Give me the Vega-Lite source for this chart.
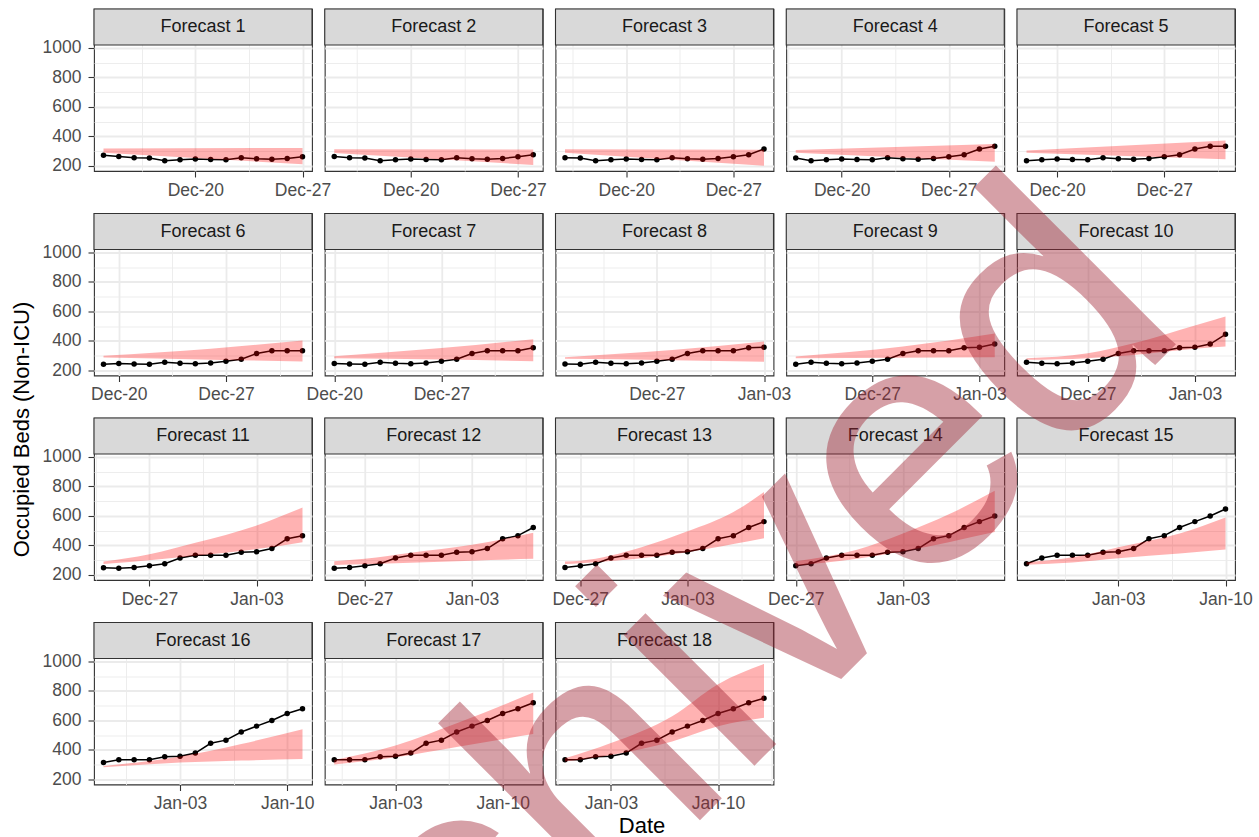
{
  "$schema": "https://vega.github.io/schema/vega-lite/v6.json",
  "padding": {"left": 11, "top": 7, "right": 10, "bottom": 5},
  "background": "white",
  "title": {"text": "Occupied Beds (Non-ICU)", "orient": "left", "anchor": "middle", "fontSize": 22, "fontWeight": "normal", "color": "#000000", "offset": -4, "font": "Liberation Sans", "dx": 245},
  "data": {
    "format": {"parse": {"d": "date"}},
    "values": [
      {"p":"Forecast 1","d":"2020/12/14","v":272},{"p":"Forecast 1","d":"2020/12/15","v":264},{"p":"Forecast 1","d":"2020/12/16","v":255},{"p":"Forecast 1","d":"2020/12/17","v":254},{"p":"Forecast 1","d":"2020/12/18","v":235},{"p":"Forecast 1","d":"2020/12/19","v":242},{"p":"Forecast 1","d":"2020/12/20","v":247},{"p":"Forecast 1","d":"2020/12/21","v":244},{"p":"Forecast 1","d":"2020/12/22","v":242},{"p":"Forecast 1","d":"2020/12/23","v":255},{"p":"Forecast 1","d":"2020/12/24","v":249},{"p":"Forecast 1","d":"2020/12/25","v":246},{"p":"Forecast 1","d":"2020/12/26","v":251},{"p":"Forecast 1","d":"2020/12/27","v":262},
      {"p":"Forecast 2","d":"2020/12/15","v":264},{"p":"Forecast 2","d":"2020/12/16","v":255},{"p":"Forecast 2","d":"2020/12/17","v":254},{"p":"Forecast 2","d":"2020/12/18","v":235},{"p":"Forecast 2","d":"2020/12/19","v":242},{"p":"Forecast 2","d":"2020/12/20","v":247},{"p":"Forecast 2","d":"2020/12/21","v":244},{"p":"Forecast 2","d":"2020/12/22","v":242},{"p":"Forecast 2","d":"2020/12/23","v":255},{"p":"Forecast 2","d":"2020/12/24","v":249},{"p":"Forecast 2","d":"2020/12/25","v":246},{"p":"Forecast 2","d":"2020/12/26","v":251},{"p":"Forecast 2","d":"2020/12/27","v":262},{"p":"Forecast 2","d":"2020/12/28","v":276},
      {"p":"Forecast 3","d":"2020/12/16","v":255},{"p":"Forecast 3","d":"2020/12/17","v":254},{"p":"Forecast 3","d":"2020/12/18","v":235},{"p":"Forecast 3","d":"2020/12/19","v":242},{"p":"Forecast 3","d":"2020/12/20","v":247},{"p":"Forecast 3","d":"2020/12/21","v":244},{"p":"Forecast 3","d":"2020/12/22","v":242},{"p":"Forecast 3","d":"2020/12/23","v":255},{"p":"Forecast 3","d":"2020/12/24","v":249},{"p":"Forecast 3","d":"2020/12/25","v":246},{"p":"Forecast 3","d":"2020/12/26","v":251},{"p":"Forecast 3","d":"2020/12/27","v":262},{"p":"Forecast 3","d":"2020/12/28","v":276},{"p":"Forecast 3","d":"2020/12/29","v":315},
      {"p":"Forecast 4","d":"2020/12/17","v":254},{"p":"Forecast 4","d":"2020/12/18","v":235},{"p":"Forecast 4","d":"2020/12/19","v":242},{"p":"Forecast 4","d":"2020/12/20","v":247},{"p":"Forecast 4","d":"2020/12/21","v":244},{"p":"Forecast 4","d":"2020/12/22","v":242},{"p":"Forecast 4","d":"2020/12/23","v":255},{"p":"Forecast 4","d":"2020/12/24","v":249},{"p":"Forecast 4","d":"2020/12/25","v":246},{"p":"Forecast 4","d":"2020/12/26","v":251},{"p":"Forecast 4","d":"2020/12/27","v":262},{"p":"Forecast 4","d":"2020/12/28","v":276},{"p":"Forecast 4","d":"2020/12/29","v":315},{"p":"Forecast 4","d":"2020/12/30","v":334},
      {"p":"Forecast 5","d":"2020/12/18","v":235},{"p":"Forecast 5","d":"2020/12/19","v":242},{"p":"Forecast 5","d":"2020/12/20","v":247},{"p":"Forecast 5","d":"2020/12/21","v":244},{"p":"Forecast 5","d":"2020/12/22","v":242},{"p":"Forecast 5","d":"2020/12/23","v":255},{"p":"Forecast 5","d":"2020/12/24","v":249},{"p":"Forecast 5","d":"2020/12/25","v":246},{"p":"Forecast 5","d":"2020/12/26","v":251},{"p":"Forecast 5","d":"2020/12/27","v":262},{"p":"Forecast 5","d":"2020/12/28","v":276},{"p":"Forecast 5","d":"2020/12/29","v":315},{"p":"Forecast 5","d":"2020/12/30","v":334},{"p":"Forecast 5","d":"2020/12/31","v":334},
      {"p":"Forecast 6","d":"2020/12/19","v":242},{"p":"Forecast 6","d":"2020/12/20","v":247},{"p":"Forecast 6","d":"2020/12/21","v":244},{"p":"Forecast 6","d":"2020/12/22","v":242},{"p":"Forecast 6","d":"2020/12/23","v":255},{"p":"Forecast 6","d":"2020/12/24","v":249},{"p":"Forecast 6","d":"2020/12/25","v":246},{"p":"Forecast 6","d":"2020/12/26","v":251},{"p":"Forecast 6","d":"2020/12/27","v":262},{"p":"Forecast 6","d":"2020/12/28","v":276},{"p":"Forecast 6","d":"2020/12/29","v":315},{"p":"Forecast 6","d":"2020/12/30","v":334},{"p":"Forecast 6","d":"2020/12/31","v":334},{"p":"Forecast 6","d":"2021/01/01","v":334},
      {"p":"Forecast 7","d":"2020/12/20","v":247},{"p":"Forecast 7","d":"2020/12/21","v":244},{"p":"Forecast 7","d":"2020/12/22","v":242},{"p":"Forecast 7","d":"2020/12/23","v":255},{"p":"Forecast 7","d":"2020/12/24","v":249},{"p":"Forecast 7","d":"2020/12/25","v":246},{"p":"Forecast 7","d":"2020/12/26","v":251},{"p":"Forecast 7","d":"2020/12/27","v":262},{"p":"Forecast 7","d":"2020/12/28","v":276},{"p":"Forecast 7","d":"2020/12/29","v":315},{"p":"Forecast 7","d":"2020/12/30","v":334},{"p":"Forecast 7","d":"2020/12/31","v":334},{"p":"Forecast 7","d":"2021/01/01","v":334},{"p":"Forecast 7","d":"2021/01/02","v":354},
      {"p":"Forecast 8","d":"2020/12/21","v":244},{"p":"Forecast 8","d":"2020/12/22","v":242},{"p":"Forecast 8","d":"2020/12/23","v":255},{"p":"Forecast 8","d":"2020/12/24","v":249},{"p":"Forecast 8","d":"2020/12/25","v":246},{"p":"Forecast 8","d":"2020/12/26","v":251},{"p":"Forecast 8","d":"2020/12/27","v":262},{"p":"Forecast 8","d":"2020/12/28","v":276},{"p":"Forecast 8","d":"2020/12/29","v":315},{"p":"Forecast 8","d":"2020/12/30","v":334},{"p":"Forecast 8","d":"2020/12/31","v":334},{"p":"Forecast 8","d":"2021/01/01","v":334},{"p":"Forecast 8","d":"2021/01/02","v":354},{"p":"Forecast 8","d":"2021/01/03","v":357},
      {"p":"Forecast 9","d":"2020/12/22","v":242},{"p":"Forecast 9","d":"2020/12/23","v":255},{"p":"Forecast 9","d":"2020/12/24","v":249},{"p":"Forecast 9","d":"2020/12/25","v":246},{"p":"Forecast 9","d":"2020/12/26","v":251},{"p":"Forecast 9","d":"2020/12/27","v":262},{"p":"Forecast 9","d":"2020/12/28","v":276},{"p":"Forecast 9","d":"2020/12/29","v":315},{"p":"Forecast 9","d":"2020/12/30","v":334},{"p":"Forecast 9","d":"2020/12/31","v":334},{"p":"Forecast 9","d":"2021/01/01","v":334},{"p":"Forecast 9","d":"2021/01/02","v":354},{"p":"Forecast 9","d":"2021/01/03","v":357},{"p":"Forecast 9","d":"2021/01/04","v":379},
      {"p":"Forecast 10","d":"2020/12/23","v":255},{"p":"Forecast 10","d":"2020/12/24","v":249},{"p":"Forecast 10","d":"2020/12/25","v":246},{"p":"Forecast 10","d":"2020/12/26","v":251},{"p":"Forecast 10","d":"2020/12/27","v":262},{"p":"Forecast 10","d":"2020/12/28","v":276},{"p":"Forecast 10","d":"2020/12/29","v":315},{"p":"Forecast 10","d":"2020/12/30","v":334},{"p":"Forecast 10","d":"2020/12/31","v":334},{"p":"Forecast 10","d":"2021/01/01","v":334},{"p":"Forecast 10","d":"2021/01/02","v":354},{"p":"Forecast 10","d":"2021/01/03","v":357},{"p":"Forecast 10","d":"2021/01/04","v":379},{"p":"Forecast 10","d":"2021/01/05","v":445},
      {"p":"Forecast 11","d":"2020/12/24","v":249},{"p":"Forecast 11","d":"2020/12/25","v":246},{"p":"Forecast 11","d":"2020/12/26","v":251},{"p":"Forecast 11","d":"2020/12/27","v":262},{"p":"Forecast 11","d":"2020/12/28","v":276},{"p":"Forecast 11","d":"2020/12/29","v":315},{"p":"Forecast 11","d":"2020/12/30","v":334},{"p":"Forecast 11","d":"2020/12/31","v":334},{"p":"Forecast 11","d":"2021/01/01","v":334},{"p":"Forecast 11","d":"2021/01/02","v":354},{"p":"Forecast 11","d":"2021/01/03","v":357},{"p":"Forecast 11","d":"2021/01/04","v":379},{"p":"Forecast 11","d":"2021/01/05","v":445},{"p":"Forecast 11","d":"2021/01/06","v":466},
      {"p":"Forecast 12","d":"2020/12/25","v":246},{"p":"Forecast 12","d":"2020/12/26","v":251},{"p":"Forecast 12","d":"2020/12/27","v":262},{"p":"Forecast 12","d":"2020/12/28","v":276},{"p":"Forecast 12","d":"2020/12/29","v":315},{"p":"Forecast 12","d":"2020/12/30","v":334},{"p":"Forecast 12","d":"2020/12/31","v":334},{"p":"Forecast 12","d":"2021/01/01","v":334},{"p":"Forecast 12","d":"2021/01/02","v":354},{"p":"Forecast 12","d":"2021/01/03","v":357},{"p":"Forecast 12","d":"2021/01/04","v":379},{"p":"Forecast 12","d":"2021/01/05","v":445},{"p":"Forecast 12","d":"2021/01/06","v":466},{"p":"Forecast 12","d":"2021/01/07","v":521},
      {"p":"Forecast 13","d":"2020/12/26","v":251},{"p":"Forecast 13","d":"2020/12/27","v":262},{"p":"Forecast 13","d":"2020/12/28","v":276},{"p":"Forecast 13","d":"2020/12/29","v":315},{"p":"Forecast 13","d":"2020/12/30","v":334},{"p":"Forecast 13","d":"2020/12/31","v":334},{"p":"Forecast 13","d":"2021/01/01","v":334},{"p":"Forecast 13","d":"2021/01/02","v":354},{"p":"Forecast 13","d":"2021/01/03","v":357},{"p":"Forecast 13","d":"2021/01/04","v":379},{"p":"Forecast 13","d":"2021/01/05","v":445},{"p":"Forecast 13","d":"2021/01/06","v":466},{"p":"Forecast 13","d":"2021/01/07","v":521},{"p":"Forecast 13","d":"2021/01/08","v":561},
      {"p":"Forecast 14","d":"2020/12/27","v":262},{"p":"Forecast 14","d":"2020/12/28","v":276},{"p":"Forecast 14","d":"2020/12/29","v":315},{"p":"Forecast 14","d":"2020/12/30","v":334},{"p":"Forecast 14","d":"2020/12/31","v":334},{"p":"Forecast 14","d":"2021/01/01","v":334},{"p":"Forecast 14","d":"2021/01/02","v":354},{"p":"Forecast 14","d":"2021/01/03","v":357},{"p":"Forecast 14","d":"2021/01/04","v":379},{"p":"Forecast 14","d":"2021/01/05","v":445},{"p":"Forecast 14","d":"2021/01/06","v":466},{"p":"Forecast 14","d":"2021/01/07","v":521},{"p":"Forecast 14","d":"2021/01/08","v":561},{"p":"Forecast 14","d":"2021/01/09","v":599},
      {"p":"Forecast 15","d":"2020/12/28","v":276},{"p":"Forecast 15","d":"2020/12/29","v":315},{"p":"Forecast 15","d":"2020/12/30","v":334},{"p":"Forecast 15","d":"2020/12/31","v":334},{"p":"Forecast 15","d":"2021/01/01","v":334},{"p":"Forecast 15","d":"2021/01/02","v":354},{"p":"Forecast 15","d":"2021/01/03","v":357},{"p":"Forecast 15","d":"2021/01/04","v":379},{"p":"Forecast 15","d":"2021/01/05","v":445},{"p":"Forecast 15","d":"2021/01/06","v":466},{"p":"Forecast 15","d":"2021/01/07","v":521},{"p":"Forecast 15","d":"2021/01/08","v":561},{"p":"Forecast 15","d":"2021/01/09","v":599},{"p":"Forecast 15","d":"2021/01/10","v":646},
      {"p":"Forecast 16","d":"2020/12/29","v":315},{"p":"Forecast 16","d":"2020/12/30","v":334},{"p":"Forecast 16","d":"2020/12/31","v":334},{"p":"Forecast 16","d":"2021/01/01","v":334},{"p":"Forecast 16","d":"2021/01/02","v":354},{"p":"Forecast 16","d":"2021/01/03","v":357},{"p":"Forecast 16","d":"2021/01/04","v":379},{"p":"Forecast 16","d":"2021/01/05","v":445},{"p":"Forecast 16","d":"2021/01/06","v":466},{"p":"Forecast 16","d":"2021/01/07","v":521},{"p":"Forecast 16","d":"2021/01/08","v":561},{"p":"Forecast 16","d":"2021/01/09","v":599},{"p":"Forecast 16","d":"2021/01/10","v":646},{"p":"Forecast 16","d":"2021/01/11","v":678},
      {"p":"Forecast 17","d":"2020/12/30","v":334},{"p":"Forecast 17","d":"2020/12/31","v":334},{"p":"Forecast 17","d":"2021/01/01","v":334},{"p":"Forecast 17","d":"2021/01/02","v":354},{"p":"Forecast 17","d":"2021/01/03","v":357},{"p":"Forecast 17","d":"2021/01/04","v":379},{"p":"Forecast 17","d":"2021/01/05","v":445},{"p":"Forecast 17","d":"2021/01/06","v":466},{"p":"Forecast 17","d":"2021/01/07","v":521},{"p":"Forecast 17","d":"2021/01/08","v":561},{"p":"Forecast 17","d":"2021/01/09","v":599},{"p":"Forecast 17","d":"2021/01/10","v":646},{"p":"Forecast 17","d":"2021/01/11","v":678},{"p":"Forecast 17","d":"2021/01/12","v":719},
      {"p":"Forecast 18","d":"2020/12/31","v":334},{"p":"Forecast 18","d":"2021/01/01","v":334},{"p":"Forecast 18","d":"2021/01/02","v":354},{"p":"Forecast 18","d":"2021/01/03","v":357},{"p":"Forecast 18","d":"2021/01/04","v":379},{"p":"Forecast 18","d":"2021/01/05","v":445},{"p":"Forecast 18","d":"2021/01/06","v":466},{"p":"Forecast 18","d":"2021/01/07","v":521},{"p":"Forecast 18","d":"2021/01/08","v":561},{"p":"Forecast 18","d":"2021/01/09","v":599},{"p":"Forecast 18","d":"2021/01/10","v":646},{"p":"Forecast 18","d":"2021/01/11","v":678},{"p":"Forecast 18","d":"2021/01/12","v":719},{"p":"Forecast 18","d":"2021/01/13","v":749},

      {"p":"Forecast 1","d":"2020/12/14","lo":290,"hi":319},{"p":"Forecast 1","d":"2020/12/27","lo":211,"hi":322},
      {"p":"Forecast 2","d":"2020/12/15","lo":287,"hi":313},{"p":"Forecast 2","d":"2020/12/28","lo":207,"hi":312},
      {"p":"Forecast 3","d":"2020/12/16","lo":290,"hi":313},{"p":"Forecast 3","d":"2020/12/29","lo":202,"hi":310},
      {"p":"Forecast 4","d":"2020/12/17","lo":290,"hi":308},{"p":"Forecast 4","d":"2020/12/30","lo":229,"hi":349},
      {"p":"Forecast 5","d":"2020/12/18","lo":290,"hi":304},{"p":"Forecast 5","d":"2020/12/31","lo":245,"hi":372},
      {"p":"Forecast 6","d":"2020/12/19","lo":288,"hi":299},{"p":"Forecast 6","d":"2020/12/26","lo":273,"hi":347},{"p":"Forecast 6","d":"2021/01/01","lo":261,"hi":403},
      {"p":"Forecast 7","d":"2020/12/20","lo":283,"hi":297},{"p":"Forecast 7","d":"2020/12/27","lo":274,"hi":352},{"p":"Forecast 7","d":"2021/01/02","lo":263,"hi":412},
      {"p":"Forecast 8","d":"2020/12/21","lo":279,"hi":290},{"p":"Forecast 8","d":"2020/12/28","lo":270,"hi":338},{"p":"Forecast 8","d":"2021/01/03","lo":259,"hi":396},
      {"p":"Forecast 9","d":"2020/12/22","lo":283,"hi":295},{"p":"Forecast 9","d":"2020/12/29","lo":286,"hi":362},{"p":"Forecast 9","d":"2021/01/04","lo":290,"hi":450},
      {"p":"Forecast 10","d":"2020/12/23","lo":272,"hi":283},{"p":"Forecast 10","d":"2020/12/27","lo":283,"hi":317},{"p":"Forecast 10","d":"2020/12/30","lo":305,"hi":385},{"p":"Forecast 10","d":"2021/01/03","lo":347,"hi":505},{"p":"Forecast 10","d":"2021/01/05","lo":362,"hi":565},
      {"p":"Forecast 11","d":"2020/12/24","lo":275,"hi":291},{"p":"Forecast 11","d":"2020/12/27","lo":300,"hi":340},{"p":"Forecast 11","d":"2020/12/30","lo":330,"hi":418},{"p":"Forecast 11","d":"2021/01/03","lo":375,"hi":535},{"p":"Forecast 11","d":"2021/01/06","lo":422,"hi":656},
      {"p":"Forecast 12","d":"2020/12/25","lo":268,"hi":293},{"p":"Forecast 12","d":"2020/12/27","lo":272,"hi":309},{"p":"Forecast 12","d":"2020/12/30","lo":282,"hi":350},{"p":"Forecast 12","d":"2021/01/03","lo":297,"hi":404},{"p":"Forecast 12","d":"2021/01/07","lo":309,"hi":486},
      {"p":"Forecast 13","d":"2020/12/26","lo":275,"hi":291},{"p":"Forecast 13","d":"2020/12/27","lo":280,"hi":297},{"p":"Forecast 13","d":"2020/12/31","lo":313,"hi":388},{"p":"Forecast 13","d":"2021/01/03","lo":354,"hi":495},{"p":"Forecast 13","d":"2021/01/06","lo":410,"hi":626},{"p":"Forecast 13","d":"2021/01/08","lo":449,"hi":762},
      {"p":"Forecast 14","d":"2020/12/27","lo":263,"hi":293},{"p":"Forecast 14","d":"2020/12/31","lo":309,"hi":370},{"p":"Forecast 14","d":"2021/01/03","lo":361,"hi":480},{"p":"Forecast 14","d":"2021/01/06","lo":422,"hi":610},{"p":"Forecast 14","d":"2021/01/09","lo":490,"hi":769},
      {"p":"Forecast 15","d":"2020/12/28","lo":270,"hi":286},{"p":"Forecast 15","d":"2020/12/31","lo":285,"hi":320},{"p":"Forecast 15","d":"2021/01/03","lo":313,"hi":388},{"p":"Forecast 15","d":"2021/01/07","lo":345,"hi":480},{"p":"Forecast 15","d":"2021/01/10","lo":372,"hi":588},
      {"p":"Forecast 16","d":"2020/12/29","lo":282,"hi":291},{"p":"Forecast 16","d":"2021/01/03","lo":314,"hi":355},{"p":"Forecast 16","d":"2021/01/07","lo":328,"hi":440},{"p":"Forecast 16","d":"2021/01/11","lo":339,"hi":539},
      {"p":"Forecast 17","d":"2020/12/30","lo":302,"hi":332},{"p":"Forecast 17","d":"2021/01/03","lo":350,"hi":430},{"p":"Forecast 17","d":"2021/01/07","lo":420,"hi":580},{"p":"Forecast 17","d":"2021/01/12","lo":507,"hi":788},
      {"p":"Forecast 18","d":"2020/12/31","lo":321,"hi":343},{"p":"Forecast 18","d":"2021/01/03","lo":366,"hi":446},{"p":"Forecast 18","d":"2021/01/07","lo":457,"hi":628},{"p":"Forecast 18","d":"2021/01/10","lo":560,"hi":845},{"p":"Forecast 18","d":"2021/01/13","lo":617,"hi":981}
    ]
  },
  "facet": {
    "field": "p",
    "type": "nominal",
    "sort": ["Forecast 1","Forecast 2","Forecast 3","Forecast 4","Forecast 5","Forecast 6","Forecast 7","Forecast 8","Forecast 9","Forecast 10","Forecast 11","Forecast 12","Forecast 13","Forecast 14","Forecast 15","Forecast 16","Forecast 17","Forecast 18"],
    "title": "Date",
    "header": {"labels": false, "labelExpr": "''", "labelFontSize": 0.01, "labelPadding": 0, "title": "Date", "titleOrient": "bottom", "titleFontSize": 22, "titleFont": "Liberation Sans", "titleFontWeight": "normal", "titleColor": "#000000", "titlePadding": 31}
  },
  "columns": 5,
  "spacing": {"row": 42.5, "column": 12.75},
  "bounds": "flush",
  "resolve": {"scale": {"x": "independent"}, "axis": {"x": "independent"}},
  "spec": {
    "width": 218,
    "height": 162,
    "layer": [
      {
        "transform": [{"filter": "datum.v != null"}, {"aggregate": [{"op": "count", "as": "n"}], "groupby": ["p"]}],
        "mark": {"type": "rect", "fill": "#D9D9D9", "stroke": "#333333", "strokeWidth": 1.1},
        "encoding": {"x": {"value": 0}, "x2": {"value": "width"}, "y": {"datum": 1018}, "y2": {"datum": 1262}}
      },
      {
        "transform": [{"filter": "datum.v != null"}],
        "mark": {"type": "line", "color": "#000000", "strokeWidth": 1.5},
        "encoding": {
          "x": {
            "field": "d", "type": "temporal",
            "scale": {"padding": 9.5, "nice": false},
            "axis": {
              "title": null,
              "values": [
                {"year": 2020, "month": 12, "date": 13},
                {"year": 2020, "month": 12, "date": 16, "hours": 12},
                {"year": 2020, "month": 12, "date": 20},
                {"year": 2020, "month": 12, "date": 23, "hours": 12},
                {"year": 2020, "month": 12, "date": 27},
                {"year": 2020, "month": 12, "date": 30, "hours": 12},
                {"year": 2021, "month": 1, "date": 3},
                {"year": 2021, "month": 1, "date": 6, "hours": 12},
                {"year": 2021, "month": 1, "date": 10},
                {"year": 2021, "month": 1, "date": 13, "hours": 12},
                {"year": 2021, "month": 1, "date": 17}
              ],
              "tickCount": 30,
              "labelExpr": "hours(datum.value) == 12 ? '' : timeFormat(datum.value, '%b-%d')",
              "grid": true,
              "gridColor": "#EBEBEB",
              "gridWidth": {"condition": {"test": "hours(datum.value) == 12", "value": 0.9}, "value": 1.8},
              "tickOpacity": {"condition": {"test": "hours(datum.value) == 12", "value": 0}, "value": 1},
              "domain": false,
              "tickColor": "#333333",
              "tickSize": 6,
              "tickWidth": 1.1,
              "labelFontSize": 17.5,
              "labelFont": "Liberation Sans",
              "labelColor": "#4D4D4D",
              "labelPadding": 4,
              "labelFlush": false,
              "labelOverlap": false
            }
          },
          "y": {
            "field": "v", "type": "quantitative",
            "scale": {"domain": [166, 1262], "nice": false, "zero": false},
            "axis": {
              "title": null,
              "values": [200, 300, 400, 500, 600, 700, 800, 900, 1000],
              "tickCount": 30,
              "labelExpr": "datum.value % 200 == 0 ? '' + datum.value : ''",
              "grid": true,
              "gridColor": "#EBEBEB",
              "gridWidth": {"condition": {"test": "datum.value % 200 == 0", "value": 1.8}, "value": 0.9},
              "tickOpacity": {"condition": {"test": "datum.value % 200 == 0", "value": 1}, "value": 0},
              "domain": false,
              "tickColor": "#333333",
              "tickSize": 6,
              "tickWidth": 1.1,
              "labelFontSize": 17.5,
              "labelFont": "Liberation Sans",
              "labelColor": "#4D4D4D",
              "labelPadding": 7,
              "labelOverlap": false
            }
          }
        }
      },
      {
        "transform": [{"filter": "datum.v != null"}],
        "mark": {"type": "point", "filled": true, "color": "#000000", "size": 30, "opacity": 1},
        "encoding": {"x": {"field": "d", "type": "temporal"}, "y": {"field": "v", "type": "quantitative"}}
      },
      {
        "transform": [{"filter": "datum.lo != null"}],
        "mark": {"type": "area", "color": "#FF0000", "opacity": 0.3, "interpolate": "monotone"},
        "encoding": {"x": {"field": "d", "type": "temporal"}, "y": {"field": "lo", "type": "quantitative"}, "y2": {"field": "hi"}}
      },
      {
        "transform": [{"filter": "datum.v != null"}, {"aggregate": [{"op": "mean", "field": "d", "as": "md"}], "groupby": ["p"]}],
        "mark": {"type": "text", "fontSize": 18, "font": "Liberation Sans", "color": "#1A1A1A", "baseline": "middle", "align": "center"},
        "encoding": {"x": {"field": "md", "type": "temporal"}, "y": {"datum": 1140}, "text": {"field": "p"}}
      },
      {
        "transform": [{"filter": "datum.p == 'Forecast 18' && datum.v != null"}, {"aggregate": [{"op": "mean", "field": "d", "as": "md"}], "groupby": ["p"]}],
        "mark": {"type": "text", "text": "Archived", "fontSize": 350, "angle": -45, "fill": "#A02030", "opacity": 0.42, "align": "center", "baseline": "middle", "font": "Liberation Sans", "dx": -32, "dy": -8},
        "encoding": {"x": {"field": "md", "type": "temporal"}, "y": {"datum": 613}}
      }
    ]
  },
  "config": {
    "font": "Liberation Sans",
    "view": {"stroke": "#333333", "strokeWidth": 1.1}
  }
}
